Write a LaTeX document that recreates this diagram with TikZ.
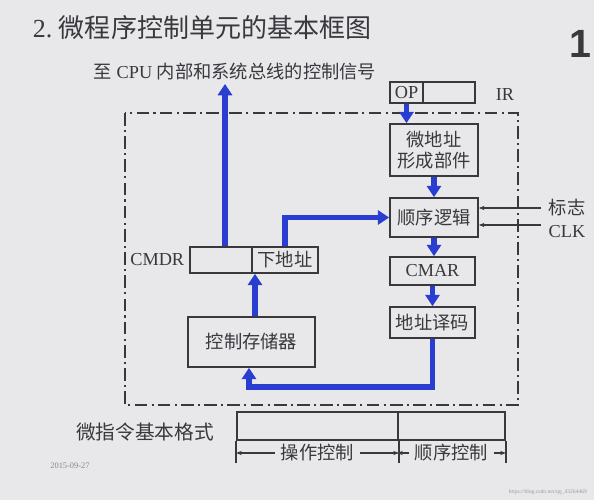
\documentclass[tikz,border=0pt]{standalone}
\usepackage{fontspec}
\setmainfont{Liberation Serif}
\newfontfamily\cjk{Noto Sans CJK SC}
\newfontfamily\pagefont{Liberation Sans}
\usetikzlibrary{arrows.meta}
\definecolor{slide}{rgb}{0.91,0.91,0.92}
\definecolor{ink}{rgb}{0.22,0.22,0.24}
\definecolor{flow}{rgb}{0.16,0.24,0.82}
\begin{document}
\begin{tikzpicture}[x=0.025cm,y=-0.025cm,
	box/.style={draw=ink,line width=1.2pt,inner sep=0pt,text=ink,font=\fontsize{13}{15}\selectfont},
	bluearrow/.style={draw=flow,line width=3.6pt,-{Triangle[length=8pt,width=10pt]}},
	thinarrow/.style={draw=ink,line width=0.9pt,-{Stealth[length=4pt,width=3pt]}},
	lbl/.style={text=ink,font=\fontsize{13}{15}\selectfont}]
		\fill[slide] (0,0) rectangle (594,500);
		\useasboundingbox (0,0) rectangle (594,500);
		
		\node[text=ink,font=\fontsize{18.5}{22}\selectfont,anchor=west] (title) at (28,28) {2.\ {\cjk 微程序控制单元的基本框图}};
		\node[text=ink,font=\pagefont\bfseries\fontsize{28}{30}\selectfont,anchor=east,inner sep=1pt] (page) at (593,44) {1};
		\node[lbl,font=\fontsize{13}{15}\selectfont] (signal) at (235,72) {{\cjk 至} CPU {\cjk 内部和系统总线的控制信号}};
		
		\draw[ink,line width=1pt,dash pattern=on 9pt off 3pt on 1.5pt off 3pt] (125,113) rectangle (518,405);
		
		\node[box,minimum width=0.825cm,minimum height=0.525cm] (op) at (406.5,92.5) {OP};
		\node[box,minimum width=1.3cm,minimum height=0.525cm] (ir) at (449,92.5) {};
		\node[lbl] (irlbl) at (505,95) {IR};
		
		\node[box,minimum width=2.2cm,minimum height=1.3cm,align=center] (wdz) at (434,150) {\cjk 微地址\\\cjk 形成部件};
		\node[box,minimum width=2.2cm,minimum height=0.975cm] (sxlj) at (434,217.5) {\cjk 顺序逻辑};
		\node[box,minimum width=2.125cm,minimum height=0.7cm] (cmar) at (432.5,271) {CMAR};
		\node[box,minimum width=2.125cm,minimum height=0.775cm] (dzym) at (432.5,322.5) {\cjk 地址译码};
		\node[box,minimum width=3.175cm,minimum height=1.25cm] (kzcc) at (251.5,342) {\cjk 控制存储器};
		\node[box,minimum width=1.55cm,minimum height=0.65cm] (cmdr) at (221,260) {};
		\node[box,minimum width=1.65cm,minimum height=0.65cm] (xdz) at (285,260) {\cjk 下地址};
		\node[lbl,anchor=east] (cmdrlbl) at (cmdr.west) {CMDR};
		
		\node[lbl] (flag) at (567,208) {\cjk 标志};
		\node[lbl] (clk) at (567,232) {CLK};
		\coordinate (flagin) at (541,208);
		\coordinate (clkin) at (541,225);
		\coordinate (sig) at (225,84);
		\coordinate (loop) at (249,387);
		
		\draw[bluearrow,line width=4.5pt] (sig |- cmdr.north) -- (sig);
		\draw[bluearrow] (op.south) -- (op.south |- wdz.north);
		\draw[bluearrow] (wdz.south) -- (sxlj.north);
		\draw[bluearrow] (sxlj.south) -- (sxlj.south |- cmar.north);
		\draw[bluearrow] (cmar.south) -- (dzym.north);
		\draw[bluearrow] (dzym.south) |- (loop) -- (loop |- kzcc.south);
		\draw[bluearrow] (kzcc.north -| 255,0) -- (xdz.south -| 255,0);
		\draw[bluearrow] (xdz.north) |- (sxlj.west);
		
		\draw[thinarrow] (flagin) -- (sxlj.east |- flagin);
		\draw[thinarrow] (clkin) -- (sxlj.east |- clkin);
		
		% microinstruction format
		\node[lbl,font=\fontsize{14}{16}\selectfont] (fmtlbl) at (145,432) {\cjk 微指令基本格式};
		\node[box,minimum width=4.025cm,minimum height=0.7cm] (opfield) at (317.5,426) {};
		\node[box,minimum width=2.675cm,minimum height=0.7cm] (seqfield) at (451.5,426) {};
		\draw[ink,line width=1.2pt] (opfield.south west) -- ++(0,22);
		\draw[ink,line width=1.2pt] (opfield.south east) -- ++(0,22);
		\draw[ink,line width=1.2pt] (seqfield.south east) -- ++(0,22);
		\node[lbl,inner sep=4pt] (oplbl) at (317.5,453) {\cjk 操作控制};
		\node[lbl,inner sep=4pt] (seqlbl) at (451.5,453) {\cjk 顺序控制};
		\draw[thinarrow] (oplbl.west) -- (oplbl.west -| opfield.west);
		\draw[thinarrow] (oplbl.east) -- (oplbl.east -| opfield.east);
		\draw[thinarrow] (seqlbl.west) -- (seqlbl.west -| seqfield.west);
		\draw[thinarrow] (seqlbl.east) -- (seqlbl.east -| seqfield.east);
		
		\node[text=ink!60,font=\fontsize{6}{7}\selectfont] (date) at (70,466) {2015-09-27};
		\node[text=ink!50,font=\fontsize{4}{5}\selectfont,anchor=east] (mark) at (592,492) {https://blog.csdn.net/qq\_43264469};
	\end{tikzpicture}
\end{document}
